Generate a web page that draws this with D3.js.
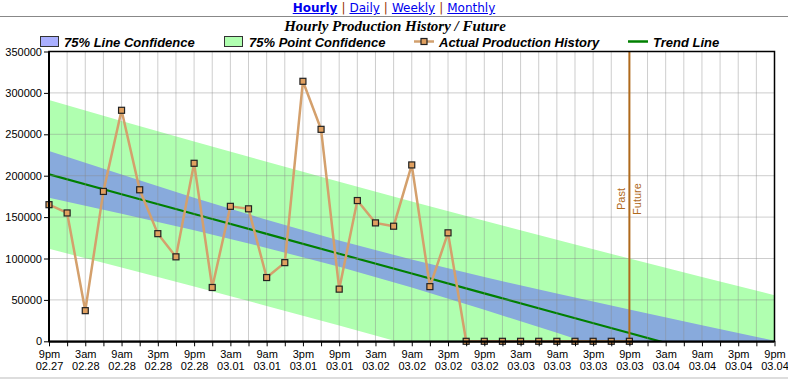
<!DOCTYPE html>
<html><head><meta charset="utf-8">
<script src="https://cdn.jsdelivr.net/npm/d3@7"></script>
<style>
body{margin:0;background:#fff;}
#nav{position:absolute;left:0;top:1px;width:788px;text-align:center;font:12px "DejaVu Sans",Verdana,sans-serif;line-height:14px;}
#nav a{color:#0000ee;text-decoration:underline;}
#nav a.cur{font-weight:bold;}
#nav .sep{color:#993300;margin:0 4px;}
svg{position:absolute;left:0;top:0;}
</style></head><body>
<svg id="chart" width="788" height="380"></svg>
<div id="nav"></div>
<script>
// ---------- data ----------
const navLinks = ["Hourly", "Daily", "Weekly", "Monthly"];
const chartTitle = "Hourly Production History / Future";
const legendLabels = ["75% Line Confidence", "75% Point Confidence", "Actual Production History", "Trend Line"];
const startTime = "2023-02-27T21:00:00";
const endHours = 120;
const stepHours = 3;
const production = [165000, 155000, 37000, 181000, 279000, 183000, 130000, 102000, 215000, 65000,
  163000, 160000, 77000, 95000, 314000, 256000, 63000, 170000, 143000, 139000,
  213000, 66000, 131000, 0, 0, 0, 0, 0, 0, 0, 0, 0, 0];
const bandHours = [0, 12, 24, 36, 48, 60, 72, 84, 96, 108, 120];
const trendValues = [201600, 177650, 153700, 129740, 105790, 81840, 57890, 33940, 9980, -13970, -37920];
const lineConfUpper = [229900, 201350, 173420, 146650, 121660, 98750, 77610, 57640, 38280, 19360, 660];
const lineConfLower = [173300, 153950, 133980, 112830, 89920, 64930, 38170, 10240, -18320, -47300, -76500];
const pointConfUpper = [291500, 266210, 241280, 216740, 192590, 168840, 145470, 122500, 99880, 77640, 55730];
const pointConfLower = [111700, 89090, 66120, 42740, 18990, -5160, -29690, -54620, -79920, -105580, -131570];
const yTicks = [0, 50000, 100000, 150000, 200000, 250000, 300000, 350000];
const pastFutureHours = 96;
const pastLabel = "Past", futureLabel = "Future";

// ---------- nav ----------
const nav = d3.select("#nav");
navLinks.forEach((t, i) => {
  if (i > 0) nav.append("span").attr("class", "sep").text("|");
  nav.append("a").attr("href", "#").attr("class", i === 0 ? "cur" : null).text(t);
});

// ---------- setup ----------
const svg = d3.select("#chart");
const t0 = new Date(startTime);
const hr = h => d3.timeHour.offset(t0, h);
const L = 49, R = 774.5, T = 51.5, B = 341.3;
const x = d3.scaleTime().domain([t0, hr(endHours)]).range([L, R]);
const y = d3.scaleLinear().domain([0, 350000]).range([B, T]);

svg.append("line").attr("x1", 0).attr("x2", 788).attr("y1", 16.5).attr("y2", 16.5).attr("stroke", "#888");
svg.append("line").attr("x1", 0).attr("x2", 788).attr("y1", 378).attr("y2", 378).attr("stroke", "#ddd").attr("stroke-width", 2);

// title
svg.append("text").attr("x", 395).attr("y", 30.5).attr("text-anchor", "middle")
  .attr("font-family", "'Liberation Serif','Times New Roman',serif").attr("font-size", 15)
  .attr("font-weight", "bold").attr("font-style", "italic").text(chartTitle);

// legend
const legFont = "'Liberation Sans',Arial,sans-serif";
const lg = svg.append("g");
lg.append("rect").attr("x", 40.5).attr("y", 36.5).attr("width", 18).attr("height", 10).attr("fill", "#aab0ff").attr("stroke", "#333");
lg.append("rect").attr("x", 224.5).attr("y", 36.5).attr("width", 18).attr("height", 10).attr("fill", "#b0ffb0").attr("stroke", "#333");
lg.append("line").attr("x1", 414).attr("x2", 434).attr("y1", 41.5).attr("y2", 41.5).attr("stroke", "#d2a06e").attr("stroke-width", 2.5);
lg.append("rect").attr("x", 421).attr("y", 38.5).attr("width", 6).attr("height", 6).attr("fill", "#e0a060").attr("stroke", "#222").attr("stroke-width", 1.2);
lg.append("line").attr("x1", 628).attr("x2", 648).attr("y1", 41.5).attr("y2", 41.5).attr("stroke", "#008000").attr("stroke-width", 2.5);
const legX = [64, 249, 439, 653];
legendLabels.forEach((t, i) => {
  lg.append("text").attr("x", legX[i]).attr("y", 46.5).attr("font-family", legFont).attr("font-size", 13)
    .attr("font-weight", "bold").attr("font-style", "italic").text(t);
});

// clip
svg.append("clipPath").attr("id", "clip").append("rect").attr("x", L).attr("y", T).attr("width", R - L).attr("height", B - T);
const plot = svg.append("g").attr("clip-path", "url(#clip)");

const bandIdx = d3.range(bandHours.length);
const area = (lo, hi) => d3.area().x(i => x(hr(bandHours[i]))).y0(i => y(lo[i])).y1(i => y(hi[i]));
plot.append("path").attr("d", area(pointConfLower, pointConfUpper)(bandIdx)).attr("fill", "#b0ffb0");
plot.append("path").attr("d", area(lineConfLower, lineConfUpper)(bandIdx)).attr("fill", "#88aadc");

// grid
const grid = svg.append("g").attr("stroke", "#888").attr("stroke-opacity", 0.42).attr("stroke-width", 1);
d3.timeHour.every(3).range(hr(3), hr(endHours)).forEach(d => {
  grid.append("line").attr("x1", x(d)).attr("x2", x(d)).attr("y1", T).attr("y2", B);
});
yTicks.filter(v => v > 0 && v < 350000).forEach(v => {
  grid.append("line").attr("x1", L).attr("x2", R).attr("y1", y(v)).attr("y2", y(v));
});

// trend
plot.append("path").attr("d", d3.line().x(i => x(hr(bandHours[i]))).y(i => y(trendValues[i]))(bandIdx))
  .attr("fill", "none").attr("stroke", "#008000").attr("stroke-width", 2.2);

// past/future
const pfx = x(hr(pastFutureHours));
svg.append("line").attr("x1", pfx).attr("x2", pfx).attr("y1", T).attr("y2", B).attr("stroke", "#b06a1c").attr("stroke-width", 2);
svg.append("text").attr("transform", `translate(${pfx - 4},199) rotate(-90)`).attr("text-anchor", "middle")
  .attr("font-family", legFont).attr("font-size", 11).attr("fill", "#b06a1c").text(pastLabel);
svg.append("text").attr("transform", `translate(${pfx + 12},199) rotate(-90)`).attr("text-anchor", "middle")
  .attr("font-family", legFont).attr("font-size", 11).attr("fill", "#b06a1c").text(futureLabel);

// production
const pts = production.map((v, i) => ({ t: hr(i * stepHours), v }));
svg.append("path").attr("d", d3.line().x(d => x(d.t)).y(d => y(d.v))(pts))
  .attr("fill", "none").attr("stroke", "#d4a06c").attr("stroke-width", 2.5);
svg.append("g").selectAll("rect").data(pts).join("rect")
  .attr("x", d => x(d.t) - 3).attr("y", d => y(d.v) - 3).attr("width", 6).attr("height", 6)
  .attr("fill", "#e0a060").attr("stroke", "#222").attr("stroke-width", 1.2);

// border
svg.append("rect").attr("x", L).attr("y", T).attr("width", R - L).attr("height", B - T)
  .attr("fill", "none").attr("stroke", "#000").attr("stroke-width", 1.5);
svg.append("line").attr("x1", L).attr("x2", L).attr("y1", T).attr("y2", B + 1)
  .attr("stroke", "#000").attr("stroke-width", 2);

// axes
const yAxis = svg.append("g").attr("transform", `translate(${L},0)`)
  .call(d3.axisLeft(y).tickValues(yTicks).tickSize(5).tickPadding(2).tickFormat(d3.format("d")));
yAxis.select(".domain").remove();
yAxis.selectAll("text").attr("font-family", legFont).attr("font-size", 11).attr("fill", "#000");
yAxis.selectAll("line").attr("stroke", "#000");

const fmtH = d3.timeFormat("%-I%p"), fmtD = d3.timeFormat("%m.%d");
const xAxis = svg.append("g").attr("transform", `translate(0,${B})`)
  .call(d3.axisBottom(x).ticks(d3.timeHour.every(3)).tickSize(5).tickFormat(""));
xAxis.select(".domain").attr("stroke", "#000").attr("stroke-width", 2).attr("d", `M${L},0.5H${R}`);
xAxis.selectAll("line").attr("stroke", "#000");
xAxis.selectAll(".tick").each(function (d) {
  const h = Math.round((d - t0) / 3600000);
  if (h % 6 !== 0) return;
  const txt = d3.select(this).select("text").attr("y", 0).attr("dy", null)
    .attr("font-family", legFont).attr("font-size", 11).attr("fill", "#000");
  txt.append("tspan").attr("x", 0).attr("y", 17).text(fmtH(d).toLowerCase());
  txt.append("tspan").attr("x", 0).attr("y", 29).text(fmtD(d));
});
</script>
</body></html>
